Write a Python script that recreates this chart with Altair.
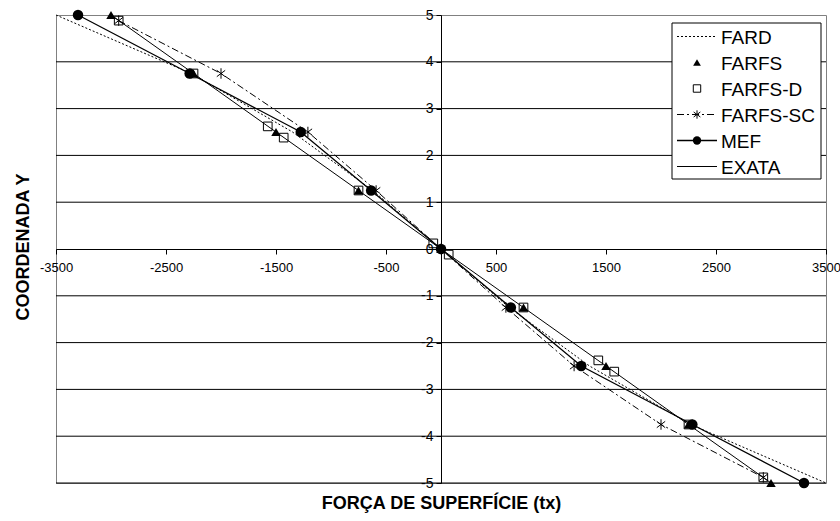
import altair as alt
import pandas as pd

# ---- values: surface force tx along the boundary coordinate Y ----------
y_nodes = [5, 3.75, 2.5, 1.25, 0, -1.25, -2.5, -3.75, -5]

fard_x = [-3500, -2270, -1350, -620, 0, 620, 1350, 2270, 3500]
farfs_x = [-3000, -2250, -1500, -750, 0, 750, 1500, 2250, 3000]
farfsd_y = [4.88, 3.75, 2.62, 2.38, 1.25, 0.12, -0.12, -1.25, -2.38, -2.62, -3.75, -4.88]
farfsd_x = [-2930, -2250, -1575, -1430, -750, -70, 70, 750, 1430, 1575, 2250, 2930]
farfssc_y = [4.88, 3.75, 2.5, 1.25, 0, -1.25, -2.5, -3.75, -4.88]
farfssc_x = [-2930, -2000, -1210, -590, 0, 590, 1210, 2000, 2930]
mef_x = [-3300, -2285, -1275, -635, 0, 635, 1275, 2285, 3300]
exata_x = [-3000, -2250, -1500, -750, 0, 750, 1500, 2250, 3000]

x_ticks = [-3500, -2500, -1500, -500, 500, 1500, 2500, 3500]
y_ticks = [-5, -4, -3, -2, -1, 0, 1, 2, 3, 4, 5]
grid_lines = [-5, -4, -3, -2, -1, 1, 2, 3, 4]

legend_names = ["FARD", "FARFS", "FARFS-D", "FARFS-SC", "MEF", "EXATA"]

# ---- layout -------------------------------------------------------------
W, H = 770, 468
PAD = {"left": 56, "top": 15, "right": 14, "bottom": 38}
FONT = "Liberation Sans"
ASTERISK = "M0,-1L0,1M-0.8,-0.6L0.8,0.6M-0.8,0.6L0.8,-0.6"
DOTTED = [2, 2]
DASH_DOT = [7, 3, 2, 3]

# legend box (plot-area pixels)
LG_X0, LG_X1, LG_Y0, LG_Y1 = 616, 765, 8, 164
LG_ROW0, LG_STEP = 21.5, 26
LG_S0, LG_S1, LG_MARK, LG_TEXT = 621, 661, 641, 665


def frame(name, xs, ys):
    return pd.DataFrame({"series": name, "x": xs, "y": ys, "k": list(range(len(xs)))})


data = pd.concat(
    [
        frame("FARD", fard_x, y_nodes),
        frame("FARFS", farfs_x, y_nodes),
        frame("FARFS-D", farfsd_x, farfsd_y),
        frame("FARFS-SC", farfssc_x, farfssc_y),
        frame("MEF", mef_x, y_nodes),
        frame("EXATA", exata_x, y_nodes),
    ],
    ignore_index=True,
)

x_axis = alt.Axis(
    values=x_ticks,
    orient="bottom",
    offset=-H / 2,
    grid=False,
    domainColor="black",
    tickColor="black",
    tickSize=5,
    labelExpr="'' + datum.value",
    labelFont=FONT,
    labelFontSize=13,
    labelColor="black",
    labelPadding=7,
    labelFlush=False,
    labelOverlap=False,
    title="FORÇA DE SUPERFÍCIE (tx)",
    titleFont=FONT,
    titleFontSize=18,
    titleFontWeight="bold",
    titleColor="black",
    titleX=W / 2,
    titleY=259,
    titleAlign="center",
    titleBaseline="alphabetic",
)
y_axis = alt.Axis(
    values=y_ticks,
    orient="left",
    offset=-W / 2,
    grid=False,
    domainColor="black",
    tickColor="black",
    tickSize=5,
    labelExpr="'' + datum.value",
    labelFont=FONT,
    labelFontSize=14,
    labelColor="black",
    labelPadding=3,
    labelFlush=False,
    labelOverlap=False,
    title="COORDENADA Y",
    titleFont=FONT,
    titleFontSize=18,
    titleFontWeight="bold",
    titleColor="black",
    titleAngle=270,
    titleX=-413,
    titleY=231.5,
    titleAlign="center",
    titleBaseline="alphabetic",
)

X = alt.X("x:Q", scale=alt.Scale(domain=[-3500, 3500], nice=False, zero=False), axis=x_axis)
Y = alt.Y("y:Q", scale=alt.Scale(domain=[-5, 5], nice=False, zero=False), axis=y_axis)

base = alt.Chart(data)


def series(name):
    return base.transform_filter(alt.datum.series == name)


grid = alt.Chart(pd.DataFrame({"y": grid_lines})).mark_rule(
    color="black", strokeWidth=1
).encode(y=Y)

exata = series("EXATA").mark_line(color="black", strokeWidth=1).encode(
    x=X, y=Y, order=alt.Order("k:Q")
)
fard = series("FARD").mark_line(color="black", strokeWidth=1, strokeDash=DOTTED).encode(
    x=X, y=Y, order=alt.Order("k:Q")
)
sc_line = series("FARFS-SC").mark_line(
    color="black", strokeWidth=1, strokeDash=DASH_DOT
).encode(x=X, y=Y, order=alt.Order("k:Q"))
mef_line = series("MEF").mark_line(color="black", strokeWidth=1.3).encode(
    x=X, y=Y, order=alt.Order("k:Q")
)

tri = series("FARFS").mark_point(
    shape="triangle-up", filled=True, color="black", size=90, opacity=1
).encode(x=X, y=Y)
sq = series("FARFS-D").mark_point(
    shape="square", filled=False, color="black", strokeWidth=1, size=75, opacity=1
).encode(x=X, y=Y)
star = series("FARFS-SC").mark_point(
    shape=ASTERISK, filled=False, color="black", strokeWidth=1, size=110, opacity=1
).encode(x=X, y=Y)
dots = series("MEF").mark_point(
    shape="circle", filled=True, color="black", size=110, opacity=1
).encode(x=X, y=Y)

# ---- legend -------------------------------------------------------------
one = pd.DataFrame({"n": [0]})
legend_layers = [
    alt.Chart(one).mark_rect(fill="white", stroke="black", strokeWidth=1).encode(
        x=alt.value(LG_X0), x2=alt.value(LG_X1), y=alt.value(LG_Y0), y2=alt.value(LG_Y1)
    )
]
line_styles = {
    "FARD": dict(strokeDash=DOTTED, strokeWidth=1),
    "FARFS-SC": dict(strokeDash=DASH_DOT, strokeWidth=1),
    "MEF": dict(strokeWidth=1.3),
    "EXATA": dict(strokeWidth=1),
}
marker_styles = {
    "FARFS": dict(shape="triangle-up", filled=True, size=60),
    "FARFS-D": dict(shape="square", filled=False, size=55, strokeWidth=1),
    "FARFS-SC": dict(shape=ASTERISK, filled=False, size=70, strokeWidth=1),
    "MEF": dict(shape="circle", filled=True, size=70),
}
for i, name in enumerate(legend_names):
    py = LG_ROW0 + i * LG_STEP
    if name in line_styles:
        legend_layers.append(
            alt.Chart(one).mark_rule(color="black", **line_styles[name]).encode(
                x=alt.value(LG_S0), x2=alt.value(LG_S1), y=alt.value(py)
            )
        )
    if name in marker_styles:
        legend_layers.append(
            alt.Chart(one).mark_point(color="black", opacity=1, **marker_styles[name]).encode(
                x=alt.value(LG_MARK), y=alt.value(py)
            )
        )
    legend_layers.append(
        alt.Chart(pd.DataFrame({"label": [name]})).mark_text(
            align="left", baseline="middle", font=FONT, fontSize=19, color="black", dy=1
        ).encode(x=alt.value(LG_TEXT), y=alt.value(py), text="label:N")
    )

chart = (
    alt.layer(grid, exata, fard, sc_line, mef_line, tri, sq, star, dots, *legend_layers)
    .properties(
        width=W,
        height=H,
        padding=PAD,
        autosize=alt.AutoSizeParams(type="none"),
        background="white",
    )
    .configure_view(stroke="#808080", strokeWidth=1)
)

chart.save("out.html", embed_options={"renderer": "svg", "actions": False})
